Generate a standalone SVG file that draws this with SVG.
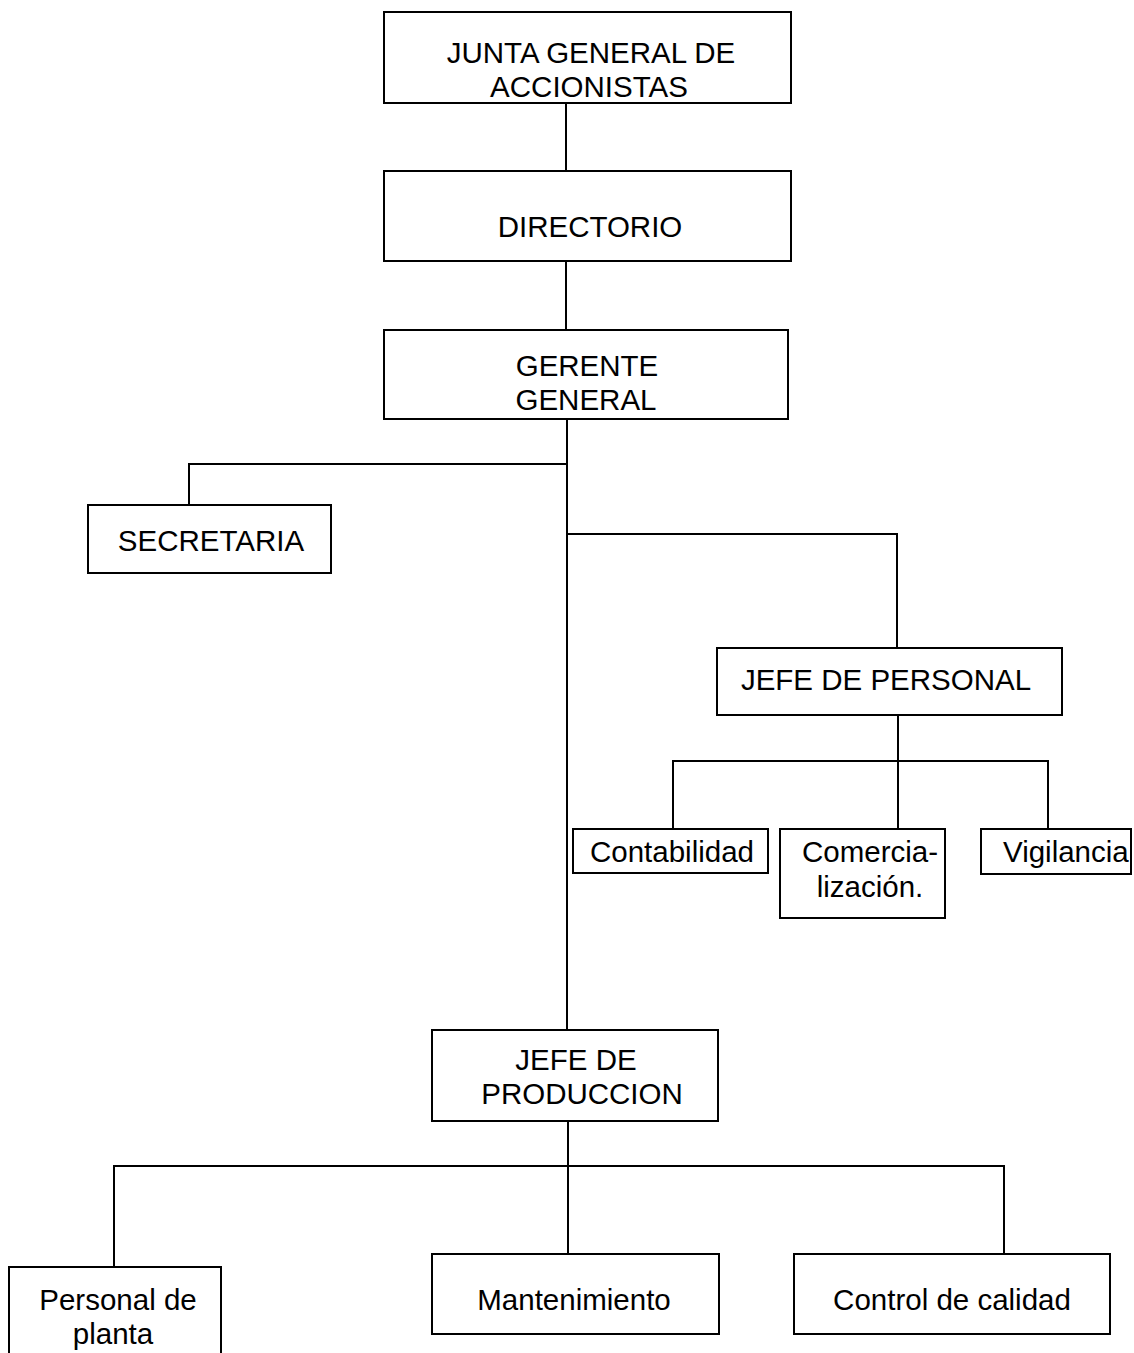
<svg xmlns="http://www.w3.org/2000/svg" width="1134" height="1353" viewBox="0 0 1134 1353">
<style>
.box{fill:#fff;stroke:#000;stroke-width:2}
.ln{fill:none;stroke:#000;stroke-width:2}
text{font-family:"Liberation Sans",Arial,sans-serif;font-size:29.5px;fill:#000;text-anchor:middle}
</style>
<rect width="1134" height="1353" fill="#fff"/>
<g id="connectors">
<path class="ln" d="M566 103V171"/>
<path class="ln" d="M566 261V330"/>
<path class="ln" d="M567 419V1030"/>
<path class="ln" d="M567 464H189V505"/>
<path class="ln" d="M567 534H897V650"/>
<path class="ln" d="M898 715V829"/>
<path class="ln" d="M673 829V761H1048V829"/>
<path class="ln" d="M568 1121V1254"/>
<path class="ln" d="M114 1267V1166H1004V1254"/>
</g>
<g id="junta"><rect class="box" x="384" y="12" width="407" height="91"/><text x="591" y="63">JUNTA GENERAL DE</text><text x="589" y="97">ACCIONISTAS</text></g>
<g id="directorio"><rect class="box" x="384" y="171" width="407" height="90"/><text x="590" y="237">DIRECTORIO</text></g>
<g id="gerente"><rect class="box" x="384" y="330" width="404" height="89"/><text x="587" y="376">GERENTE</text><text x="586" y="410">GENERAL</text></g>
<g id="secretaria"><rect class="box" x="88" y="505" width="243" height="68"/><text x="211" y="551">SECRETARIA</text></g>
<g id="jefe-personal"><rect class="box" x="717" y="648" width="345" height="67"/><text x="886" y="690">JEFE DE PERSONAL</text></g>
<g id="contabilidad"><rect class="box" x="573" y="829" width="195" height="44"/><text x="672" y="862">Contabilidad</text></g>
<g id="comercializacion"><rect class="box" x="780" y="829" width="165" height="89"/><text x="870" y="862">Comercia-</text><text x="870" y="897">lización.</text></g>
<g id="vigilancia"><rect class="box" x="981" y="829" width="150" height="45"/><text x="1003" y="862" style="text-anchor:start">Vigilancia</text></g>
<g id="jefe-produccion"><rect class="box" x="432" y="1030" width="286" height="91"/><text x="576" y="1070">JEFE DE</text><text x="582" y="1104">PRODUCCION</text></g>
<g id="personal-planta"><rect class="box" x="9" y="1267" width="212" height="100"/><text x="118" y="1310">Personal de</text><text x="113" y="1344">planta</text></g>
<g id="mantenimiento"><rect class="box" x="432" y="1254" width="287" height="80"/><text x="574" y="1310">Mantenimiento</text></g>
<g id="control-calidad"><rect class="box" x="794" y="1254" width="316" height="80"/><text x="952" y="1310">Control de calidad</text></g>
</svg>
